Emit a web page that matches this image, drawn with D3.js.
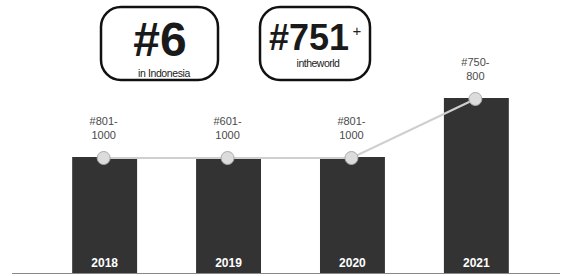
<!DOCTYPE html>
<html><head><meta charset="utf-8">
<script src="https://cdn.jsdelivr.net/npm/d3@7"></script>
<style>body{margin:0;background:#fff}svg{display:block}</style>
</head><body>
<script>
const years = ["2018","2019","2020","2021"];
const barIndex = [116, 116, 116, 175];
const rankTop = ["#801-","#601-","#801-","#750-"];
const rankBottom = ["1000","1000","1000","800"];
const badgeMain = ["#6","#751"];
const badgeSup = ["","+"];
const badgeSub = ["in Indonesia","intheworld"];

const W=567,H=276;
const svg=d3.select("body").append("svg").attr("width",W).attr("height",H);
const font="'Liberation Sans', Arial, sans-serif";
const x=d3.scaleBand().domain(years).range([35,546]).paddingInner(0.476).paddingOuter(0.3);
const y=d3.scaleLinear().domain([0,200]).range([273,73]);

svg.append("line").attr("x1",12).attr("x2",560).attr("y1",273.5).attr("y2",273.5).attr("stroke","#888").attr("stroke-width",1);

svg.selectAll("rect.bar").data(years).join("rect").attr("class","bar")
  .attr("x",d=>x(d)).attr("width",x.bandwidth())
  .attr("y",(d,i)=>y(barIndex[i])).attr("height",(d,i)=>y(0)-y(barIndex[i]))
  .attr("fill","#333");

svg.selectAll("text.yr").data(years).join("text").attr("class","yr")
  .attr("x",d=>x(d)+x.bandwidth()/2).attr("y",267).attr("text-anchor","middle")
  .attr("font-family",font).attr("font-weight","bold").attr("font-size",12).attr("fill","#fff").text(d=>d);

const cx=(i)=>x(years[i])+x.bandwidth()/2-1;
const line=d3.line().x((d,i)=>cx(i)).y(d=>y(d)+1);
svg.append("path").datum(barIndex).attr("d",line).attr("fill","none").attr("stroke","#cfcfcf").attr("stroke-width",2.2);
svg.selectAll("circle.pt").data(barIndex).join("circle").attr("class","pt")
  .attr("cx",(d,i)=>cx(i)).attr("cy",d=>y(d)+1).attr("r",6.5)
  .attr("fill","#dcdcdc").attr("stroke","#aaa").attr("stroke-width",1);

svg.selectAll("text.rt").data(rankTop).join("text").attr("class","rt")
  .attr("x",(d,i)=>cx(i)).attr("y",(d,i)=>y(barIndex[i])-32)
  .attr("text-anchor","middle").attr("font-family",font).attr("font-size",11).attr("fill","#4a4a4a").text(d=>d);
svg.selectAll("text.rb").data(rankBottom).join("text").attr("class","rb")
  .attr("x",(d,i)=>cx(i)).attr("y",(d,i)=>y(barIndex[i])-18)
  .attr("text-anchor","middle").attr("font-family",font).attr("font-size",11).attr("fill","#4a4a4a").text(d=>d);

const boxes=[{x:101,w:117},{x:260,w:110}];
boxes.forEach((b)=>{
  svg.append("rect").attr("x",b.x).attr("y",7).attr("width",b.w).attr("height",73).attr("rx",20)
    .attr("fill","#fff").attr("stroke","#111").attr("stroke-width",2.5);
});
svg.append("text").attr("x",160).attr("y",56).attr("text-anchor","middle").attr("font-family",font)
  .attr("font-weight","bold").attr("font-size",48).attr("fill","#1a1a1a").text(badgeMain[0]);
svg.append("text").attr("x",164).attr("y",77).attr("text-anchor","middle").attr("font-family",font)
  .attr("font-size",10.5).attr("letter-spacing",-0.4).attr("fill","#222").text(badgeSub[0]);
svg.append("text").attr("x",309).attr("y",50).attr("text-anchor","middle").attr("font-family",font)
  .attr("font-weight","bold").attr("font-size",36).attr("fill","#1a1a1a").text(badgeMain[1]);
svg.append("text").attr("x",357).attr("y",36).attr("text-anchor","middle").attr("font-family",font)
  .attr("font-size",15).attr("fill","#222").text(badgeSup[1]);
svg.append("text").attr("x",318).attr("y",67).attr("text-anchor","middle").attr("font-family",font)
  .attr("font-size",10.5).attr("letter-spacing",-0.5).attr("fill","#222").text(badgeSub[1]);
</script>
</body></html>
